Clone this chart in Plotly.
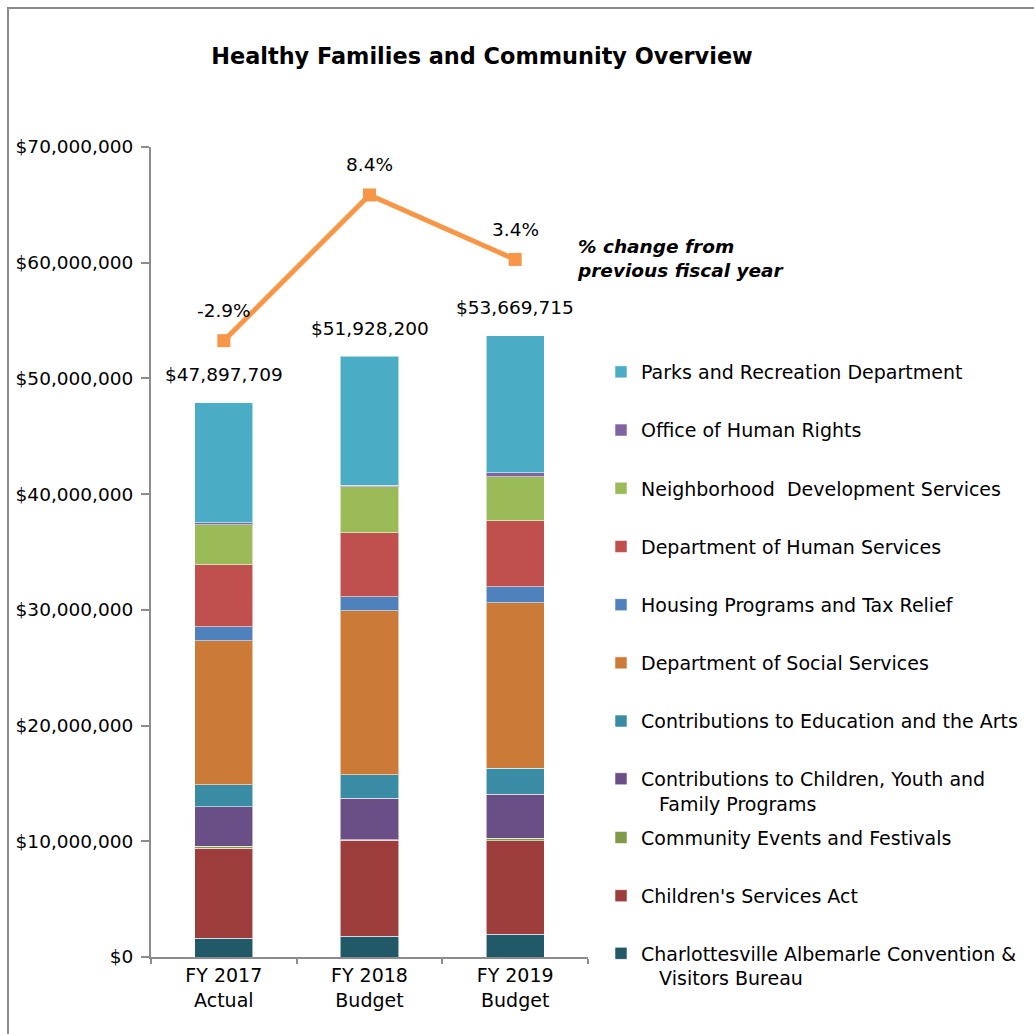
import plotly.graph_objects as go

# ---------------- data ----------------
categories = ["FY 2017<br>Actual", "FY 2018<br>Budget", "FY 2019<br>Budget"]

# stacked series, bottom of stack first
series_names = [
    "Charlottesville Albemarle Convention &amp;<br>\u00a0\u00a0\u00a0Visitors Bureau",
    "Children's Services Act",
    "Community Events and Festivals",
    "Contributions to Children, Youth and<br>\u00a0\u00a0\u00a0Family Programs",
    "Contributions to Education and the Arts",
    "Department of Social Services",
    "Housing Programs and Tax Relief",
    "Department of Human Services",
    "Neighborhood  Development Services",
    "Office of Human Rights",
    "Parks and Recreation Department",
]
cacvb = [1_620_000, 1_790_000, 1_960_000]
csa = [7_770_000, 8_290_000, 8_090_000]
events = [200_000, 50_000, 210_000]
contrib_children = [3_400_000, 3_580_000, 3_800_000]
contrib_arts = [1_900_000, 2_050_000, 2_250_000]
social_services = [12_450_000, 14_170_000, 14_310_000]
housing = [1_210_000, 1_210_000, 1_360_000]
human_services = [5_330_000, 5_510_000, 5_700_000]
neighborhood = [3_490_000, 3_970_000, 3_810_000]
human_rights = [150_000, 150_000, 340_000]
parks = [10_380_000, 11_160_000, 11_840_000]

totals = [47_897_709, 51_928_200, 53_669_715]
pct_change = [-2.9, 8.4, 3.4]

series_values = [cacvb, csa, events, contrib_children, contrib_arts,
                 social_services, housing, human_services, neighborhood,
                 human_rights, parks]
series_colors = ["#215968", "#9E3E3C", "#7F9A48", "#6A4F86", "#3A8BA4",
                 "#CB7A38", "#4F81BD", "#C0504D", "#9BBB59", "#8064A2",
                 "#4BACC6"]

# ---------------- layout geometry (pixels) ----------------
W = H = 1034
PL, PR, PT, PB = 151, 588, 147, 957
FONT = "DejaVu Sans"

fig = go.Figure()

n = len(series_names)
for i, (name, vals, col) in enumerate(zip(series_names, series_values, series_colors)):
    lg = "legend" if i == 0 else f"legend{i + 1}"
    fig.add_trace(go.Bar(
        x=categories, y=vals, name=name, legend=lg,
        marker=dict(color=col, line=dict(width=1, color="rgba(255,255,255,0.55)")),
        hoverinfo="skip",
    ))

fig.add_trace(go.Scatter(
    x=categories, y=pct_change, yaxis="y2", mode="lines+markers",
    line=dict(color="#F79646", width=5),
    marker=dict(symbol="square", size=13, color="#F79646"),
    showlegend=False, hoverinfo="skip", cliponaxis=False,
))

annotations = []
for c, t in zip(categories, totals):
    annotations.append(dict(x=c, y=t, xref="x", yref="y", text=f"${t:,.0f}",
                            showarrow=False, yshift=28, yanchor="middle",
                            font=dict(family=FONT, size=18.5, color="#000")))
for c, p in zip(categories, pct_change):
    annotations.append(dict(x=c, y=p, xref="x", yref="y2", text=f"{p:.1f}%",
                            showarrow=False, yshift=30, yanchor="middle",
                            font=dict(family=FONT, size=18.5, color="#000")))
annotations.append(dict(
    x=(575 - PL) / (PR - PL), y=(PB - 258) / (PB - PT), xref="paper", yref="paper",
    text="<b><i>% change from<br>previous fiscal year</i></b>", showarrow=False,
    xanchor="left", yanchor="middle", align="left",
    font=dict(family=FONT, size=18.5, color="#000")))

# legends: one per series, evenly spaced like the original
legend_layouts = {}
for i, name in enumerate(series_names):
    j = n - 1 - i  # position from top
    ypx = 372 + 58.2 * j
    multiline = "<br>" in name
    if multiline:
        ypx += 12
    key = "legend" if i == 0 else f"legend{i + 1}"
    legend_layouts[key] = dict(
        x=601 / W, xref="container", xanchor="left",
        y=1 - ypx / H, yref="container", yanchor="middle",
        valign="top",
        bgcolor="rgba(0,0,0,0)", borderwidth=0,
        font=dict(family=FONT, size=19, color="#000"),
    )

fig.update_layout(
    width=W, height=H,
    margin=dict(l=PL, r=W - PR, t=PT, b=H - PB, autoexpand=False),
    paper_bgcolor="white", plot_bgcolor="white",
    barmode="stack", bargap=0.6,
    title=dict(text="<b>Healthy Families and Community Overview</b>",
               x=482 / W, xref="container", xanchor="center",
               y=1 - 56 / H, yref="container", yanchor="middle",
               font=dict(family=FONT, size=22.4, color="#000")),
    xaxis=dict(type="category", showline=True, linecolor="#8c8c8c", linewidth=2,
               ticks="outside", tickson="boundaries", ticklen=5, tickcolor="#8c8c8c",
               tickwidth=2, showgrid=False, tickfont=dict(family=FONT, size=19, color="#000")),
    yaxis=dict(range=[0, 70_000_000], dtick=10_000_000, tickformat="$,.0f",
               showline=True, linecolor="#8c8c8c", linewidth=2, ticks="outside",
               ticklen=8, tickcolor="#8c8c8c", tickwidth=2, showgrid=False,
               zeroline=False, ticklabelstandoff=4,
               tickfont=dict(family=FONT, size=18.5, color="#000")),
    yaxis2=dict(overlaying="y", range=[-50.7, 12.12], visible=False),
    annotations=annotations,
    shapes=[dict(type="rect", xref="paper", yref="paper",
                 x0=(8 - PL) / (PR - PL), x1=(1050 - PL) / (PR - PL),
                 y0=(PB - 1050) / (PB - PT), y1=(PB - 8) / (PB - PT),
                 line=dict(color="#8c8c8c", width=2), layer="below")],
    **legend_layouts,
)

fig.write_html("out.html")
